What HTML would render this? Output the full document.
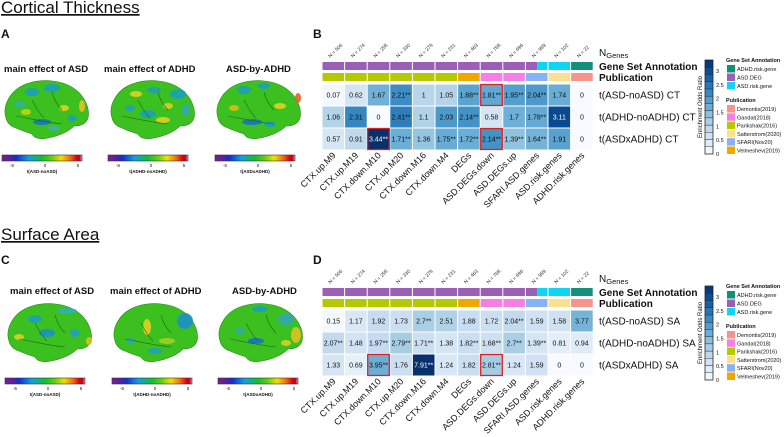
<!DOCTYPE html>
<html><head><meta charset="utf-8">
<style>
html,body{margin:0;padding:0;background:#fff;}
svg{display:block;font-family:"Liberation Sans",Arial,sans-serif;}
</style></head>
<body>
<svg id="fig" width="784" height="437" viewBox="0 0 784 437" xmlns="http://www.w3.org/2000/svg">
<defs>
<linearGradient id="jet" x1="0" x2="1" y1="0" y2="0">
<stop offset="0" stop-color="#7a1f8e"/><stop offset="0.1" stop-color="#5b1fa0"/><stop offset="0.18" stop-color="#1030d0"/>
<stop offset="0.33" stop-color="#10a0e0"/><stop offset="0.5" stop-color="#10c030"/><stop offset="0.62" stop-color="#60d010"/>
<stop offset="0.74" stop-color="#f0e000"/><stop offset="0.85" stop-color="#f07010"/><stop offset="0.93" stop-color="#e00010"/><stop offset="0.97" stop-color="#c00020"/><stop offset="1" stop-color="#e0b0b0"/>
</linearGradient>
</defs>
<g id="root"></g>
</svg>
<script>
// ---- heatmap data ----
const categories = ["CTX.up.M9","CTX.up.M19","CTX.down.M10","CTX.up.M20","CTX.down.M16","CTX.down.M4","DEGs","ASD.DEGs.down","ASD.DEGs.up","SFARI.ASD.genes","ASD.risk.genes","ADHD.risk.genes"];
const nGenes = [506,274,258,330,278,231,463,768,696,989,102,22];
const rowLabelsCT = ["t(ASD-noASD) CT","t(ADHD-noADHD) CT","t(ASDxADHD) CT"];
const rowLabelsSA = ["t(ASD-noASD) SA","t(ADHD-noADHD) SA","t(ASDxADHD) SA"];
const ctRow1 = [0.07,0.62,1.67,2.21,1,1.05,1.88,1.81,1.95,2.04,1.74,0];
const ctRow2 = [1.06,2.31,0,2.41,1.1,2.03,2.14,0.58,1.7,1.78,3.11,0];
const ctRow3 = [0.57,0.91,3.44,1.71,1.36,1.75,1.72,2.14,1.39,1.64,1.91,0];
const ctSig1 = [0,0,0,1,0,0,1,1,1,1,0,0];
const ctSig2 = [0,0,0,1,0,0,1,0,0,1,0,0];
const ctSig3 = [0,0,1,1,0,1,1,1,1,1,0,0];
const ctBoxed = [[0,7],[2,2],[2,7]];
const saRow1 = [0.15,1.17,1.92,1.73,2.7,2.51,1.88,1.72,2.04,1.59,1.58,3.77];
const saRow2 = [2.07,1.48,1.97,2.79,1.71,1.38,1.82,1.68,2.7,1.39,0.81,0.94];
const saRow3 = [1.33,0.69,3.95,1.76,7.91,1.24,1.82,2.81,1.24,1.59,0,0];
const saSig1 = [0,0,0,0,1,0,0,0,1,0,0,0];
const saSig2 = [1,0,1,1,1,0,1,1,1,1,0,0];
const saSig3 = [0,0,1,0,1,0,0,1,0,0,0,0];
const saBoxed = [[2,2],[2,7]];
const geneSetColors = ["#9b5fb5","#9b5fb5","#9b5fb5","#9b5fb5","#9b5fb5","#9b5fb5","#9b5fb5","#9b5fb5","#9b5fb5","split","#10d4f4","#13907a"];
const pubColors = ["#b5c900","#b5c900","#b5c900","#b5c900","#b5c900","#b5c900","#f0a800","#f77fe3","#f77fe3","#86b2f6","#fbe08e","#f7938a"];
const legendTicks = [0,0.5,1,1.5,2,2.5,3];

const NS="http://www.w3.org/2000/svg";
const root=document.getElementById('root');
function mk(tag,attrs,parent,txt){const e=document.createElementNS(NS,tag);for(const k in attrs)e.setAttribute(k,attrs[k]);if(txt!==undefined)e.textContent=txt;(parent||root).appendChild(e);return e;}

const bstops=[[0,[247,251,255]],[0.125,[222,235,247]],[0.25,[198,219,239]],[0.375,[158,202,225]],[0.5,[107,174,214]],[0.625,[66,146,198]],[0.75,[33,113,181]],[0.875,[8,81,156]],[1,[8,48,107]]];
function blue(v,vmax){let t=Math.max(0,Math.min(1,v/vmax));for(let i=1;i<bstops.length;i++){if(t<=bstops[i][0]){const a=bstops[i-1],b=bstops[i];const f=(t-a[0])/(b[0]-a[0]);const c=a[1].map((x,j)=>Math.round(x+(b[1][j]-x)*f));return `rgb(${c})`;}}return 'rgb(8,48,107)';}
const x0=322, cw=22.6, rh=22;
function xCol(i){return x0+i*cw;}

function heatmap(oy,rows,sigs,labels,boxed,suffix){
  const vmax=Math.max(...rows.flat());
  const g=mk('g',{});
  
  
  categories.forEach((c,i)=>{
    const t=mk('text',{x:xCol(i)+cw/2-3,y:oy+58,'font-size':5,fill:'#333',transform:`rotate(-45 ${xCol(i)+cw/2-3} ${oy+58})`},g,'N = '+nGenes[i]);
    
    
  });
  mk('text',{x:599,y:oy+56,'font-size':10,fill:'#111'},g,'N').appendChild((()=>{const s=document.createElementNS(NS,'tspan');s.setAttribute('font-size','7.5');s.setAttribute('dy','2');s.textContent='Genes';return s;})());
  categories.forEach((c,i)=>{
    const x=xCol(i);
    if(geneSetColors[i]==='split'){
      mk('rect',{x:x+0.5,y:oy+62,width:cw/2,height:8,fill:'#9b5fb5'},g);
      mk('rect',{x:x+0.5+cw/2,y:oy+62,width:cw/2-1,height:8,fill:'#10d4f4'},g);
    } else {
      const r=mk('rect',{x:x+0.5,y:oy+62,width:cw-1,height:8,fill:geneSetColors[i]},g);
      
      
    }
    const r2=mk('rect',{x:x+0.5,y:oy+73,width:cw-1,height:8,fill:pubColors[i]},g);
    
    
  });
  mk('text',{x:599,y:oy+70,'font-size':10,'font-weight':'bold',fill:'#111'},g,'Gene Set Annotation');
  mk('text',{x:599,y:oy+81,'font-size':10,'font-weight':'bold',fill:'#111'},g,'Publication');
  rows.forEach((row,r)=>{
    row.forEach((v,i)=>{
      const y=oy+84+r*rh;
      const cell=mk('rect',{x:xCol(i)+0.5,y:y+0.5,width:cw-1,height:rh-1,fill:blue(v,vmax)},g);
      
      
      const txt=mk('text',{x:xCol(i)+cw/2,y:y+rh/2+2.5,'font-size':7,'text-anchor':'middle',fill:v/vmax>0.8?'#fff':'#111'},g,String(v)+(sigs[r][i]?'**':''));
      
      
    });
    const lab=mk('text',{x:599,y:oy+84+r*rh+rh/2+3.5,'font-size':10,fill:'#111'},g,labels[r]);
    
    
  });
  boxed.forEach(([r,i])=>{
    mk('rect',{x:xCol(i)+0.5,y:oy+84+r*rh+0.5,width:cw-1,height:rh-1,fill:'none',stroke:'#e02020','stroke-width':1.3},g);
  });
  categories.forEach((c,i)=>{
    const xx=xCol(i)+cw/2+3, yy=oy+156;
    const t=mk('text',{x:xx,y:yy,'font-size':9,'text-anchor':'end',fill:'#111',transform:`rotate(-45 ${xx} ${yy})`},g,c);
    
    
  });
  const lg=mk('g',{},g);
  
  
  const cbTop=oy+60, cbH=94, n=13;
  for(let k=0;k<n;k++){
    const v=3.4*(k+0.5)/n;
    mk('rect',{x:705,y:cbTop+cbH-(k+1)*cbH/n,width:8,height:cbH/n,fill:blue(v,3.4),stroke:'#222','stroke-width':0.4},lg);
  }
  mk('rect',{x:705,y:cbTop,width:8,height:cbH,fill:'none',stroke:'#222','stroke-width':0.6},lg);
  legendTicks.forEach(t=>{
    mk('text',{x:716,y:cbTop+cbH-t/3.4*cbH+2,'font-size':5.5,fill:'#111'},lg,String(t));
  });
  mk('text',{x:702,y:cbTop+cbH/2,'font-size':6,'text-anchor':'middle',fill:'#111',transform:`rotate(-90 702 ${cbTop+cbH/2})`},lg,'Enrichment Odds Ratio');
  mk('text',{x:726,y:oy+62,'font-size':5.5,'font-weight':'bold',fill:'#111'},lg,'Gene Set Annotation');
  [['#13907a','ADHD.risk.gene'],['#9b5fb5','ASD.DEG'],['#10d4f4','ASD.risk.gene']].forEach(([c,l],k)=>{
    mk('rect',{x:727,y:oy+65+k*8.5,width:8,height:7.5,fill:c},lg);
    mk('text',{x:737,y:oy+71+k*8.5,'font-size':5.5,fill:'#111'},lg,l);
  });
  mk('text',{x:726,y:oy+102,'font-size':5.5,'font-weight':'bold',fill:'#111'},lg,'Publication');
  [['#f7938a','Demontis(2019)'],['#f77fe3','Gandal(2018)'],['#b5c900','Parikshak(2016)'],['#fbe08e','Satterstrom(2020)'],['#86b2f6','SFARI(Nov20)'],['#f0a800','Velmeshev(2019)']].forEach(([c,l],k)=>{
    mk('rect',{x:727,y:oy+105+k*8.3,width:8,height:7.5,fill:c},lg);
    mk('text',{x:737,y:oy+111+k*8.3,'font-size':5.5,fill:'#111'},lg,l);
  });
}
heatmap(0,[ctRow1,ctRow2,ctRow3],[ctSig1,ctSig2,ctSig3],rowLabelsCT,ctBoxed,'ct');
heatmap(226,[saRow1,saRow2,saRow3],[saSig1,saSig2,saSig3],rowLabelsSA,saBoxed,'sa');

function title(x,y,t,name){const e=mk('text',{x:x,y:y,'font-size':17,fill:'#111','text-decoration':'underline'},root,t);}
title(1,13,'Cortical Thickness','title-cortical-thickness');
title(1,240,'Surface Area','title-surface-area');
[['A',1,38],['B',313,38],['C',1,264],['D',313,264]].forEach(([l,x,y])=>{const e=mk('text',{x:x,y:y,'font-size':12,'font-weight':'bold',fill:'#111'},root,l);});

// ---- brains ----
const brainPath="M4,40 C0,28 8,12 24,6 C40,0 62,2 74,12 C84,20 88,32 86,40 C84,46 78,48 72,48 C66,54 56,58 46,60 C38,62 32,60 30,56 C24,54 18,52 14,50 C8,48 5,44 4,40 Z";
const patchSets=[
 [[30,14,7,4,'#1aa0b8'],[50,10,8,4,'#1aa0b8'],[18,26,6,3,'#30b0a0'],[40,44,9,3,'#1a70c8'],[62,30,5,3,'#e0d020'],[80,28,3,6,'#e8c020'],[24,34,5,3,'#c8d010'],[52,50,6,3,'#40b0a0'],[70,40,5,3,'#1aa0b8']],
 [[28,16,6,3,'#e0d020'],[46,12,7,3,'#1aa0b8'],[70,16,8,5,'#1aa0b8'],[40,36,8,4,'#1aa0b8'],[55,42,7,3,'#e0d020'],[22,30,5,3,'#20a0c0'],[78,32,4,6,'#30a8b0'],[60,28,5,3,'#d8d020']],
 [[30,12,7,4,'#1aa0b8'],[50,8,6,3,'#1aa0b8'],[38,44,10,3,'#1a70c8'],[66,28,6,3,'#e0d020'],[84,20,3,5,'#e06020'],[20,30,5,3,'#d0c010'],[56,46,6,3,'#1aa0b8']],
 [[30,18,7,4,'#1aa0b8'],[62,10,10,3,'#30b0b0'],[42,32,8,4,'#1a90c8'],[14,36,5,3,'#d8d020'],[70,32,5,4,'#20a0c0'],[84,40,3,4,'#d8c020']],
 [[36,26,4,8,'#e0d020'],[74,20,8,8,'#1a90c8'],[56,40,8,3,'#a0d020'],[44,50,7,3,'#20a0c0'],[20,40,5,3,'#30a8b0']],
 [[44,8,8,3,'#1aa0b8'],[70,18,8,6,'#30a8b0'],[80,34,5,8,'#e0c020'],[40,40,8,3,'#1a70c8'],[24,30,5,3,'#30a8b0'],[70,42,5,3,'#d8d020']]
];
const brainPos=[[2,78],[108,78],[214,78],[5,301],[111,301],[216,301]];
brainPos.forEach(([bx,by],k)=>{
  const g=mk('g',{transform:`translate(${bx},${by})`});
  
  
  mk('path',{d:brainPath,fill:'#3cc020',stroke:'#2a8a18','stroke-width':0.6},g);
  patchSets[k].forEach(([cx,cy,rx,ry,c])=>mk('ellipse',{cx:cx,cy:cy,rx:rx,ry:ry,fill:c,opacity:0.9},g));
  mk('path',{d:"M14,38 C26,40 40,44 60,46 M30,22 C34,30 38,36 42,40 M50,14 C52,22 56,28 60,32",fill:'none',stroke:'#1e6a12','stroke-width':0.6},g);
});
const subs=['main effect of ASD','main effect of ADHD','ASD-by-ADHD'];
const cbTitles=['t(ASD-noASD)','t(ADHD-noADHD)','t(ASDxADHD)'];
[[0,0],[1,226]].forEach(([s,oy])=>{
  const xs=[s?10:4, s?110:104, s?232:226];
  const cbx=[s?5:2, s?112:108, s?218:215];
  subs.forEach((t,k)=>{
    const e=mk('text',{x:xs[k],y:72+oy-(s?4:0),'font-size':9.5,'font-weight':'bold',fill:'#111'},root,t);
    
    
    const cy=155+oy-(s?3:0);
    const r=mk('rect',{x:cbx[k],y:cy,width:80,height:6,fill:'url(#jet)',stroke:'#333','stroke-width':0.6});
    
    
    [['-5',10],['0',43],['5',76]].forEach(([l,dx])=>mk('text',{x:cbx[k]+dx,y:cy+12,'font-size':4.5,'text-anchor':'middle',fill:'#111'},root,l));
    mk('text',{x:cbx[k]+40,y:cy+18,'font-size':4.5,'font-weight':'bold','text-anchor':'middle',fill:'#111'},root,cbTitles[k]);
  });
});
</script>
</body></html>
